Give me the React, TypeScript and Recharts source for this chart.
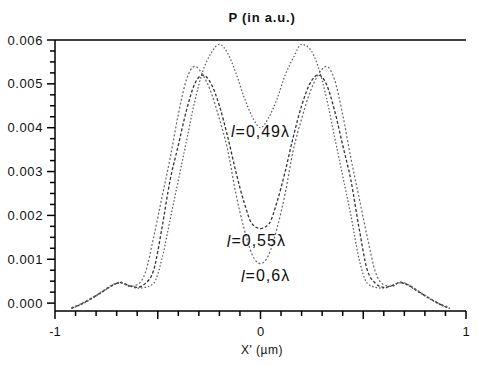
import React from "react";
import { LineChart, Line, XAxis, YAxis, ReferenceLine, ReferenceDot } from "recharts";

// X' positions (µm)
const X_POS = [
  -0.92, -0.88, -0.84, -0.8, -0.76, -0.72, -0.68, -0.64, -0.6, -0.56, -0.52, -0.48,
  -0.44, -0.4, -0.36, -0.32, -0.28, -0.24, -0.2, -0.16, -0.12, -0.08, -0.04, 0,
  0.04, 0.08, 0.12, 0.16, 0.2, 0.24, 0.28, 0.32, 0.36, 0.4, 0.44, 0.48, 0.52, 0.56,
  0.6, 0.64, 0.68, 0.72, 0.76, 0.8, 0.84, 0.88, 0.92,
];

// l = 0,49λ
const P_049 = [
  -0.00012, -0.00005, 0.00005, 0.00016, 0.00028, 0.0004, 0.00046, 0.0004, 0.00034, 0.00036, 0.00045, 0.001,
  0.0019, 0.0028, 0.0037, 0.0046, 0.0053, 0.0057, 0.0059, 0.0057, 0.00525, 0.0047, 0.00425, 0.004,
  0.00423, 0.00465, 0.0052, 0.0056, 0.0059, 0.0058, 0.0054, 0.0047, 0.0038, 0.0029, 0.002, 0.001, 0.00045, 0.00036,
  0.00034, 0.0004, 0.00046, 0.0004, 0.00028, 0.00016, 0.00005, -0.00005, -0.00012,
];

// l = 0,55λ
const P_055 = [
  -0.00012, -0.00004, 0.00006, 0.00017, 0.00029, 0.00041, 0.00047, 0.0004, 0.00036, 0.00045, 0.00075, 0.0017,
  0.0028, 0.0036, 0.0044, 0.005, 0.0052, 0.005, 0.0045, 0.0038, 0.003, 0.0023, 0.0018, 0.0017,
  0.0018, 0.0023, 0.003, 0.0038, 0.0045, 0.005, 0.0052, 0.005, 0.0044, 0.0036, 0.0028, 0.0017, 0.00075, 0.00045,
  0.00036, 0.0004, 0.00047, 0.00041, 0.00029, 0.00017, 0.00006, -0.00004, -0.00012,
];

// l = 0,6λ
const P_060 = [
  -0.0001, -0.00003, 0.00007, 0.00018, 0.0003, 0.00042, 0.00048, 0.00038, 0.00042, 0.0007, 0.0015, 0.0024,
  0.0033, 0.0043, 0.0051, 0.0054, 0.0052, 0.0048, 0.0042, 0.0035, 0.0025, 0.0017, 0.0011, 0.0009,
  0.0011, 0.0017, 0.0025, 0.0035, 0.0042, 0.0048, 0.0052, 0.0054, 0.0051, 0.0043, 0.0033, 0.0024, 0.0015, 0.0007,
  0.00042, 0.00038, 0.00048, 0.00042, 0.0003, 0.00018, 0.00007, -0.00003, -0.0001,
];

const X_TICKS = [-1, -0.9, -0.8, -0.7, -0.6, -0.5, -0.4, -0.3, -0.2, -0.1, 0, 0.1, 0.2, 0.3, 0.4, 0.5, 0.6, 0.7, 0.8, 0.9, 1];
const X_LABELS: Record<string, string> = { "-1": "-1", "0": "0", "1": "1" };
const Y_MAJOR = [0, 0.001, 0.002, 0.003, 0.004, 0.005, 0.006];
const Y_LABELS = ["0.000", "0.001", "0.002", "0.003", "0.004", "0.005", "0.006"];

// minor ticks every 0.00025
const Y_TICKS = Array.from({ length: 25 }, (_, i) => Math.round(i * 25) / 100000);

const data = X_POS.map((x, i) => ({ x, a: P_049[i], b: P_055[i], c: P_060[i] }));

const FONT = "'Liberation Sans', Arial, sans-serif";

const XTick = (props: any) => {
  const x = Number(props.x);
  const y = Number(props.y);
  const v = Number(props.payload.value);
  const major = Math.abs(v * 2 - Math.round(v * 2)) < 1e-6;
  const label = X_LABELS[String(Math.round(v * 10) / 10)];
  return (
    <g>
      <path d={`M${x},${y}V${y + (major ? 8 : 5)}`} stroke="#000" strokeWidth={1.5} fill="none" />
      {label && (
        <text x={x} y={y + 20} textAnchor="middle" dominantBaseline="central" fontSize={13} fill="#111" fontFamily={FONT}>
          {label}
        </text>
      )}
    </g>
  );
};

const YTick = (props: any) => {
  const x = Number(props.x);
  const y = Number(props.y);
  const v = Number(props.payload.value);
  const idx = Y_MAJOR.findIndex((m) => Math.abs(m - v) < 1e-9);
  return (
    <g>
      <path d={`M${x - (idx >= 0 ? 8 : 5)},${y}H${x}`} stroke="#000" strokeWidth={1.5} fill="none" />
      {idx >= 0 && (
        <text x={x - 12} y={y} textAnchor="end" dominantBaseline="central" fontSize={13} fill="#111" fontFamily={FONT} letterSpacing={0.6}>
          {Y_LABELS[idx]}
        </text>
      )}
    </g>
  );
};

const Anno = (txt: string) => (props: any) => (
  <text x={props.cx} y={props.cy} textAnchor="middle" dominantBaseline="central" fontSize={16} fill="#111" fontFamily={FONT} letterSpacing={1}>
    <tspan fontStyle="italic">l</tspan>
    {txt}
  </text>
);

export default function App() {
  return (
    <div style={{ position: "absolute", left: 0, top: 0, width: 479, height: 366, background: "#fff", fontFamily: FONT }}>
      <div style={{ position: "absolute", left: 162, top: 10, width: 200, lineHeight: "16px", textAlign: "center", fontSize: 13, fontWeight: "bold", letterSpacing: 0.8, color: "#111" }}>
        P (in a.u.)
      </div>
      <LineChart width={479} height={366} data={data} margin={{ top: 40, right: 13, bottom: 0, left: 0 }}>
        <XAxis
          dataKey="x"
          type="number"
          domain={[-1, 1]}
          ticks={X_TICKS}
          interval={0}
          height={55}
          tickSize={0}
          tickMargin={0}
          tickLine={false}
          tick={<XTick />}
          axisLine={{ stroke: "#000", strokeWidth: 1.5 }}
        />
        <YAxis
          type="number"
          domain={[-0.00018, 0.006]}
          ticks={Y_TICKS}
          interval={0}
          width={55}
          tickSize={0}
          tickMargin={0}
          tickLine={false}
          tick={<YTick />}
          axisLine={{ stroke: "#000", strokeWidth: 1.5 }}
          allowDataOverflow
        />
        <ReferenceLine y={0.006} stroke="#000" strokeWidth={1.5} />
        <Line type="monotone" dataKey="a" stroke="#555" strokeWidth={1.2} strokeDasharray="1.5 2" dot={false} isAnimationActive={false} />
        <Line type="monotone" dataKey="b" stroke="#333" strokeWidth={1.3} strokeDasharray="3 2" dot={false} isAnimationActive={false} />
        <Line type="monotone" dataKey="c" stroke="#666" strokeWidth={1.2} strokeDasharray="2 2" dot={false} isAnimationActive={false} />
        <ReferenceDot x={0} y={0.00392} r={0} shape={Anno("=0,49λ")} />
        <ReferenceDot x={-0.02} y={0.00142} r={0} shape={Anno("=0,55λ")} />
        <ReferenceDot x={0.025} y={0.00062} r={0} shape={Anno("=0,6λ")} />
      </LineChart>
      <div style={{ position: "absolute", left: 162, top: 342, width: 200, lineHeight: "16px", textAlign: "center", fontSize: 12, letterSpacing: 0.5, color: "#111" }}>
        X' (µm)
      </div>
    </div>
  );
}
